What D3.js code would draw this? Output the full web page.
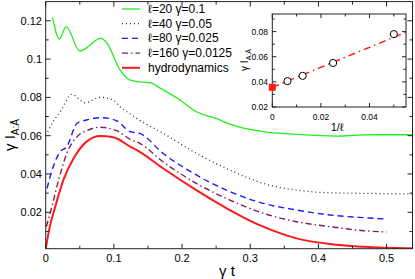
<!DOCTYPE html>
<html>
<head>
<meta charset="utf-8">
<script src="https://cdn.jsdelivr.net/npm/d3@7"></script>
<style>
  body { margin: 0; background: #fff; }
  text { font-family: "Liberation Sans", Arial, sans-serif; fill: #000; }
</style>
</head>
<body>
<script>
// size of the picture
var w = 415;
var h = 279;

// main curves: [gamma t, gamma I]
var seriesNames = ["\u2113=20 \u03b3=0.1", "\u2113=40 \u03b3=0.05", "\u2113=80 \u03b3=0.025", "\u2113=160 \u03b3=0.0125", "hydrodynamics"];

var l20 = [[0.010, 0.1218], [0.020, 0.1105], [0.030, 0.1169], [0.050, 0.1042], [0.058, 0.1053],
  [0.070, 0.1088], [0.080, 0.1109], [0.089, 0.1088], [0.109, 0.0943], [0.121, 0.0896],
  [0.133, 0.0882], [0.153, 0.0877], [0.168, 0.0848], [0.197, 0.0786], [0.221, 0.0725],
  [0.250, 0.0690], [0.270, 0.0660], [0.319, 0.0621], [0.368, 0.0607], [0.427, 0.0598],
  [0.466, 0.0604], [0.500, 0.0605], [0.538, 0.0605]];

var l40 = [[0.003, 0.0620], [0.011, 0.0673], [0.023, 0.0734], [0.038, 0.0816], [0.058, 0.0772],
  [0.080, 0.0800], [0.099, 0.0786], [0.109, 0.0751], [0.124, 0.0713], [0.138, 0.0680],
  [0.172, 0.0613], [0.221, 0.0508], [0.270, 0.0421], [0.319, 0.0351], [0.368, 0.0316],
  [0.417, 0.0302], [0.466, 0.0299], [0.538, 0.0296]];

var l80 = [[0.002, 0.0325], [0.011, 0.0438], [0.021, 0.0516], [0.031, 0.0543], [0.046, 0.0665],
  [0.060, 0.0682], [0.082, 0.0694], [0.104, 0.0678], [0.124, 0.0621], [0.138, 0.0612],
  [0.172, 0.0508], [0.221, 0.0395], [0.270, 0.0308], [0.319, 0.0247], [0.368, 0.0212],
  [0.417, 0.0186], [0.466, 0.0172], [0.500, 0.0165]];

var l160 = [[0.001, 0.0125], [0.009, 0.0229], [0.019, 0.0369], [0.031, 0.0508], [0.046, 0.0595],
  [0.060, 0.0626], [0.080, 0.0644], [0.104, 0.0626], [0.124, 0.0581], [0.138, 0.0560],
  [0.172, 0.0464], [0.221, 0.0351], [0.270, 0.0264], [0.319, 0.0195], [0.368, 0.0151],
  [0.417, 0.0125], [0.466, 0.0104], [0.500, 0.0097]];

var hydro = [[0.000, 0.0010], [0.006, 0.0125], [0.014, 0.0229], [0.026, 0.0369], [0.041, 0.0482],
  [0.060, 0.0569], [0.080, 0.0598], [0.099, 0.0592], [0.124, 0.0543], [0.138, 0.0516],
  [0.172, 0.0430], [0.221, 0.0316], [0.270, 0.0212], [0.319, 0.0125], [0.368, 0.0064],
  [0.417, 0.0034], [0.466, 0.0020], [0.538, 0.0012]];

// inset: [1/l, gamma I]
var insetPoints = [[0.05, 0.0780], [0.025, 0.0550], [0.0125, 0.0448], [0.00625, 0.0406]];
var insetHydro = [[0, 0.0357]];
var insetFit = [[0, 0.0356], [0.055, 0.0795]];

// tick values
var xTicks = [0, 0.1, 0.2, 0.3, 0.4, 0.5];
var yTicks = [0.02, 0.04, 0.06, 0.08, 0.1, 0.12];
var insetXTicks = [0, 0.02, 0.04];
var insetYTicks = [0.02, 0.04, 0.06, 0.08];

var svg = d3.select("body").append("svg")
  .attr("width", w)
  .attr("height", h);

// scales
var x = d3.scaleLinear().domain([0, 0.538]).range([45.7, 412.5]);
var y = d3.scaleLinear().domain([0.001, 0.13]).range([248.7, 1.6]);

var ix = d3.scaleLinear().domain([0, 0.055]).range([272.3, 406]);
var iy = d3.scaleLinear().domain([0.02, 0.094]).range([107, 14]);

// ticks pointing into the frame, drawn on all four sides
function frameTicks(g, xs, ys, xMajor, xMinor, yMajor, yMinor, big, small) {
  var x0 = xs.range()[0], x1 = xs.range()[1];
  var y0 = ys.range()[0], y1 = ys.range()[1];
  xMinor.forEach(function(v) {
    var len = xMajor.some(function(m) { return Math.abs(m - v) < 1e-9; }) ? big : small;
    g.append("line").attr("x1", xs(v)).attr("x2", xs(v)).attr("y1", y0).attr("y2", y0 - len);
    g.append("line").attr("x1", xs(v)).attr("x2", xs(v)).attr("y1", y1).attr("y2", y1 + len);
  });
  yMinor.forEach(function(v) {
    var len = yMajor.some(function(m) { return Math.abs(m - v) < 1e-9; }) ? big : small;
    g.append("line").attr("y1", ys(v)).attr("y2", ys(v)).attr("x1", x0).attr("x2", x0 + len);
    g.append("line").attr("y1", ys(v)).attr("y2", ys(v)).attr("x1", x1).attr("x2", x1 - len);
  });
  g.selectAll("line").attr("stroke", "#222").attr("stroke-width", 1);
  g.append("rect")
    .attr("x", x0).attr("y", y1)
    .attr("width", x1 - x0).attr("height", y0 - y1)
    .attr("fill", "none").attr("stroke", "#222").attr("stroke-width", 1);
}

// lines
var line = d3.line()
  .x(function(d) { return x(d[0]); })
  .y(function(d) { return y(d[1]); })
  .curve(d3.curveMonotoneX);

svg.append("clipPath").attr("id", "clip")
  .append("rect").attr("x", 45.7).attr("y", 1.6).attr("width", 366.8).attr("height", 247.1);

var styles = [
  { data: l20, color: "#22ee22", width: 1.3, dash: null },
  { data: l40, color: "#333", width: 1.3, dash: "1,3" },
  { data: l80, color: "#1a1aff", width: 1.4, dash: "6,4" },
  { data: l160, color: "#7a2060", width: 1.4, dash: "6,3,1.5,3" },
  { data: hydro, color: "#ff1a1a", width: 2, dash: null }
];

var curves = svg.append("g").attr("clip-path", "url(#clip)");
styles.forEach(function(s) {
  curves.append("path")
    .datum(s.data)
    .attr("d", line)
    .attr("fill", "none")
    .attr("stroke", s.color)
    .attr("stroke-width", s.width)
    .attr("stroke-dasharray", s.dash);
});

// main frame and ticks
frameTicks(svg.append("g"), x, y, xTicks, d3.range(0, 0.54, 0.05), yTicks, d3.range(0.01, 0.13, 0.01), 5, 3);

svg.append("g").selectAll("text")
  .data(xTicks)
  .enter().append("text")
  .attr("x", function(d) { return x(d); })
  .attr("y", 262)
  .attr("text-anchor", "middle")
  .attr("font-size", 11)
  .text(function(d) { return d; });

svg.append("g").selectAll("text")
  .data(yTicks)
  .enter().append("text")
  .attr("x", 42)
  .attr("y", function(d) { return y(d) + 4; })
  .attr("text-anchor", "end")
  .attr("font-size", 11)
  .text(function(d) { return d; });

svg.append("text")
  .attr("x", 227).attr("y", 276)
  .attr("text-anchor", "middle")
  .attr("font-size", 15)
  .text("\u03b3 t");

var yl = svg.append("text")
  .attr("transform", "translate(15,135) rotate(-90)")
  .attr("text-anchor", "middle")
  .attr("font-size", 15);
yl.append("tspan").text("\u03b3 I");
yl.append("tspan").attr("font-size", 10).attr("dy", 4).text("A:\u0100");

// legend
var legend = svg.append("g");
styles.forEach(function(s, i) {
  var ly = 9 + i * 14.7;
  legend.append("line")
    .attr("x1", 122).attr("x2", 140)
    .attr("y1", ly).attr("y2", ly)
    .attr("stroke", s.color)
    .attr("stroke-width", s.width)
    .attr("stroke-dasharray", s.dash);
  legend.append("text")
    .attr("x", 148).attr("y", ly + 4)
    .attr("font-size", 12)
    .text(seriesNames[i]);
});

// inset
var inset = svg.append("g");
inset.append("rect")
  .attr("x", 272.3).attr("y", 14).attr("width", 406 - 272.3).attr("height", 93)
  .attr("fill", "#fff");

var fitLine = d3.line()
  .x(function(d) { return ix(d[0]); })
  .y(function(d) { return iy(d[1]); });

inset.append("path")
  .datum(insetFit)
  .attr("d", fitLine)
  .attr("fill", "none")
  .attr("stroke", "#ff1a1a")
  .attr("stroke-width", 1.5)
  .attr("stroke-dasharray", "7,4,1.5,4");

frameTicks(inset.append("g"), ix, iy, insetXTicks, d3.range(0, 0.056, 0.01), insetYTicks, d3.range(0.02, 0.095, 0.01), 4, 2.5);

inset.selectAll("circle")
  .data(insetPoints)
  .enter().append("circle")
  .attr("cx", function(d) { return ix(d[0]); })
  .attr("cy", function(d) { return iy(d[1]); })
  .attr("r", 3.6)
  .attr("fill", "#fff")
  .attr("stroke", "#000")
  .attr("stroke-width", 1);

inset.selectAll("rect.sq")
  .data(insetHydro)
  .enter().append("rect")
  .attr("class", "sq")
  .attr("x", function(d) { return ix(d[0]) - 3.5; })
  .attr("y", function(d) { return iy(d[1]) - 3.5; })
  .attr("width", 7).attr("height", 7)
  .attr("fill", "#ff1a1a");

inset.append("g").selectAll("text")
  .data(insetXTicks)
  .enter().append("text")
  .attr("x", function(d) { return ix(d); })
  .attr("y", 120)
  .attr("text-anchor", "middle")
  .attr("font-size", 8.5)
  .text(function(d) { return d; });

inset.append("g").selectAll("text")
  .data(insetYTicks)
  .enter().append("text")
  .attr("x", 268)
  .attr("y", function(d) { return iy(d) + 3; })
  .attr("text-anchor", "end")
  .attr("font-size", 8.5)
  .text(function(d) { return d; });

inset.append("text")
  .attr("x", 337).attr("y", 131)
  .attr("text-anchor", "middle")
  .attr("font-size", 11)
  .text("1/\u2113");

var iyl = inset.append("text")
  .attr("transform", "translate(248,60) rotate(-90)")
  .attr("text-anchor", "middle")
  .attr("font-size", 10);
iyl.append("tspan").text("\u03b3 I");
iyl.append("tspan").attr("font-size", 7).attr("dy", 3).text("A:\u0100");
</script>
</body>
</html>
